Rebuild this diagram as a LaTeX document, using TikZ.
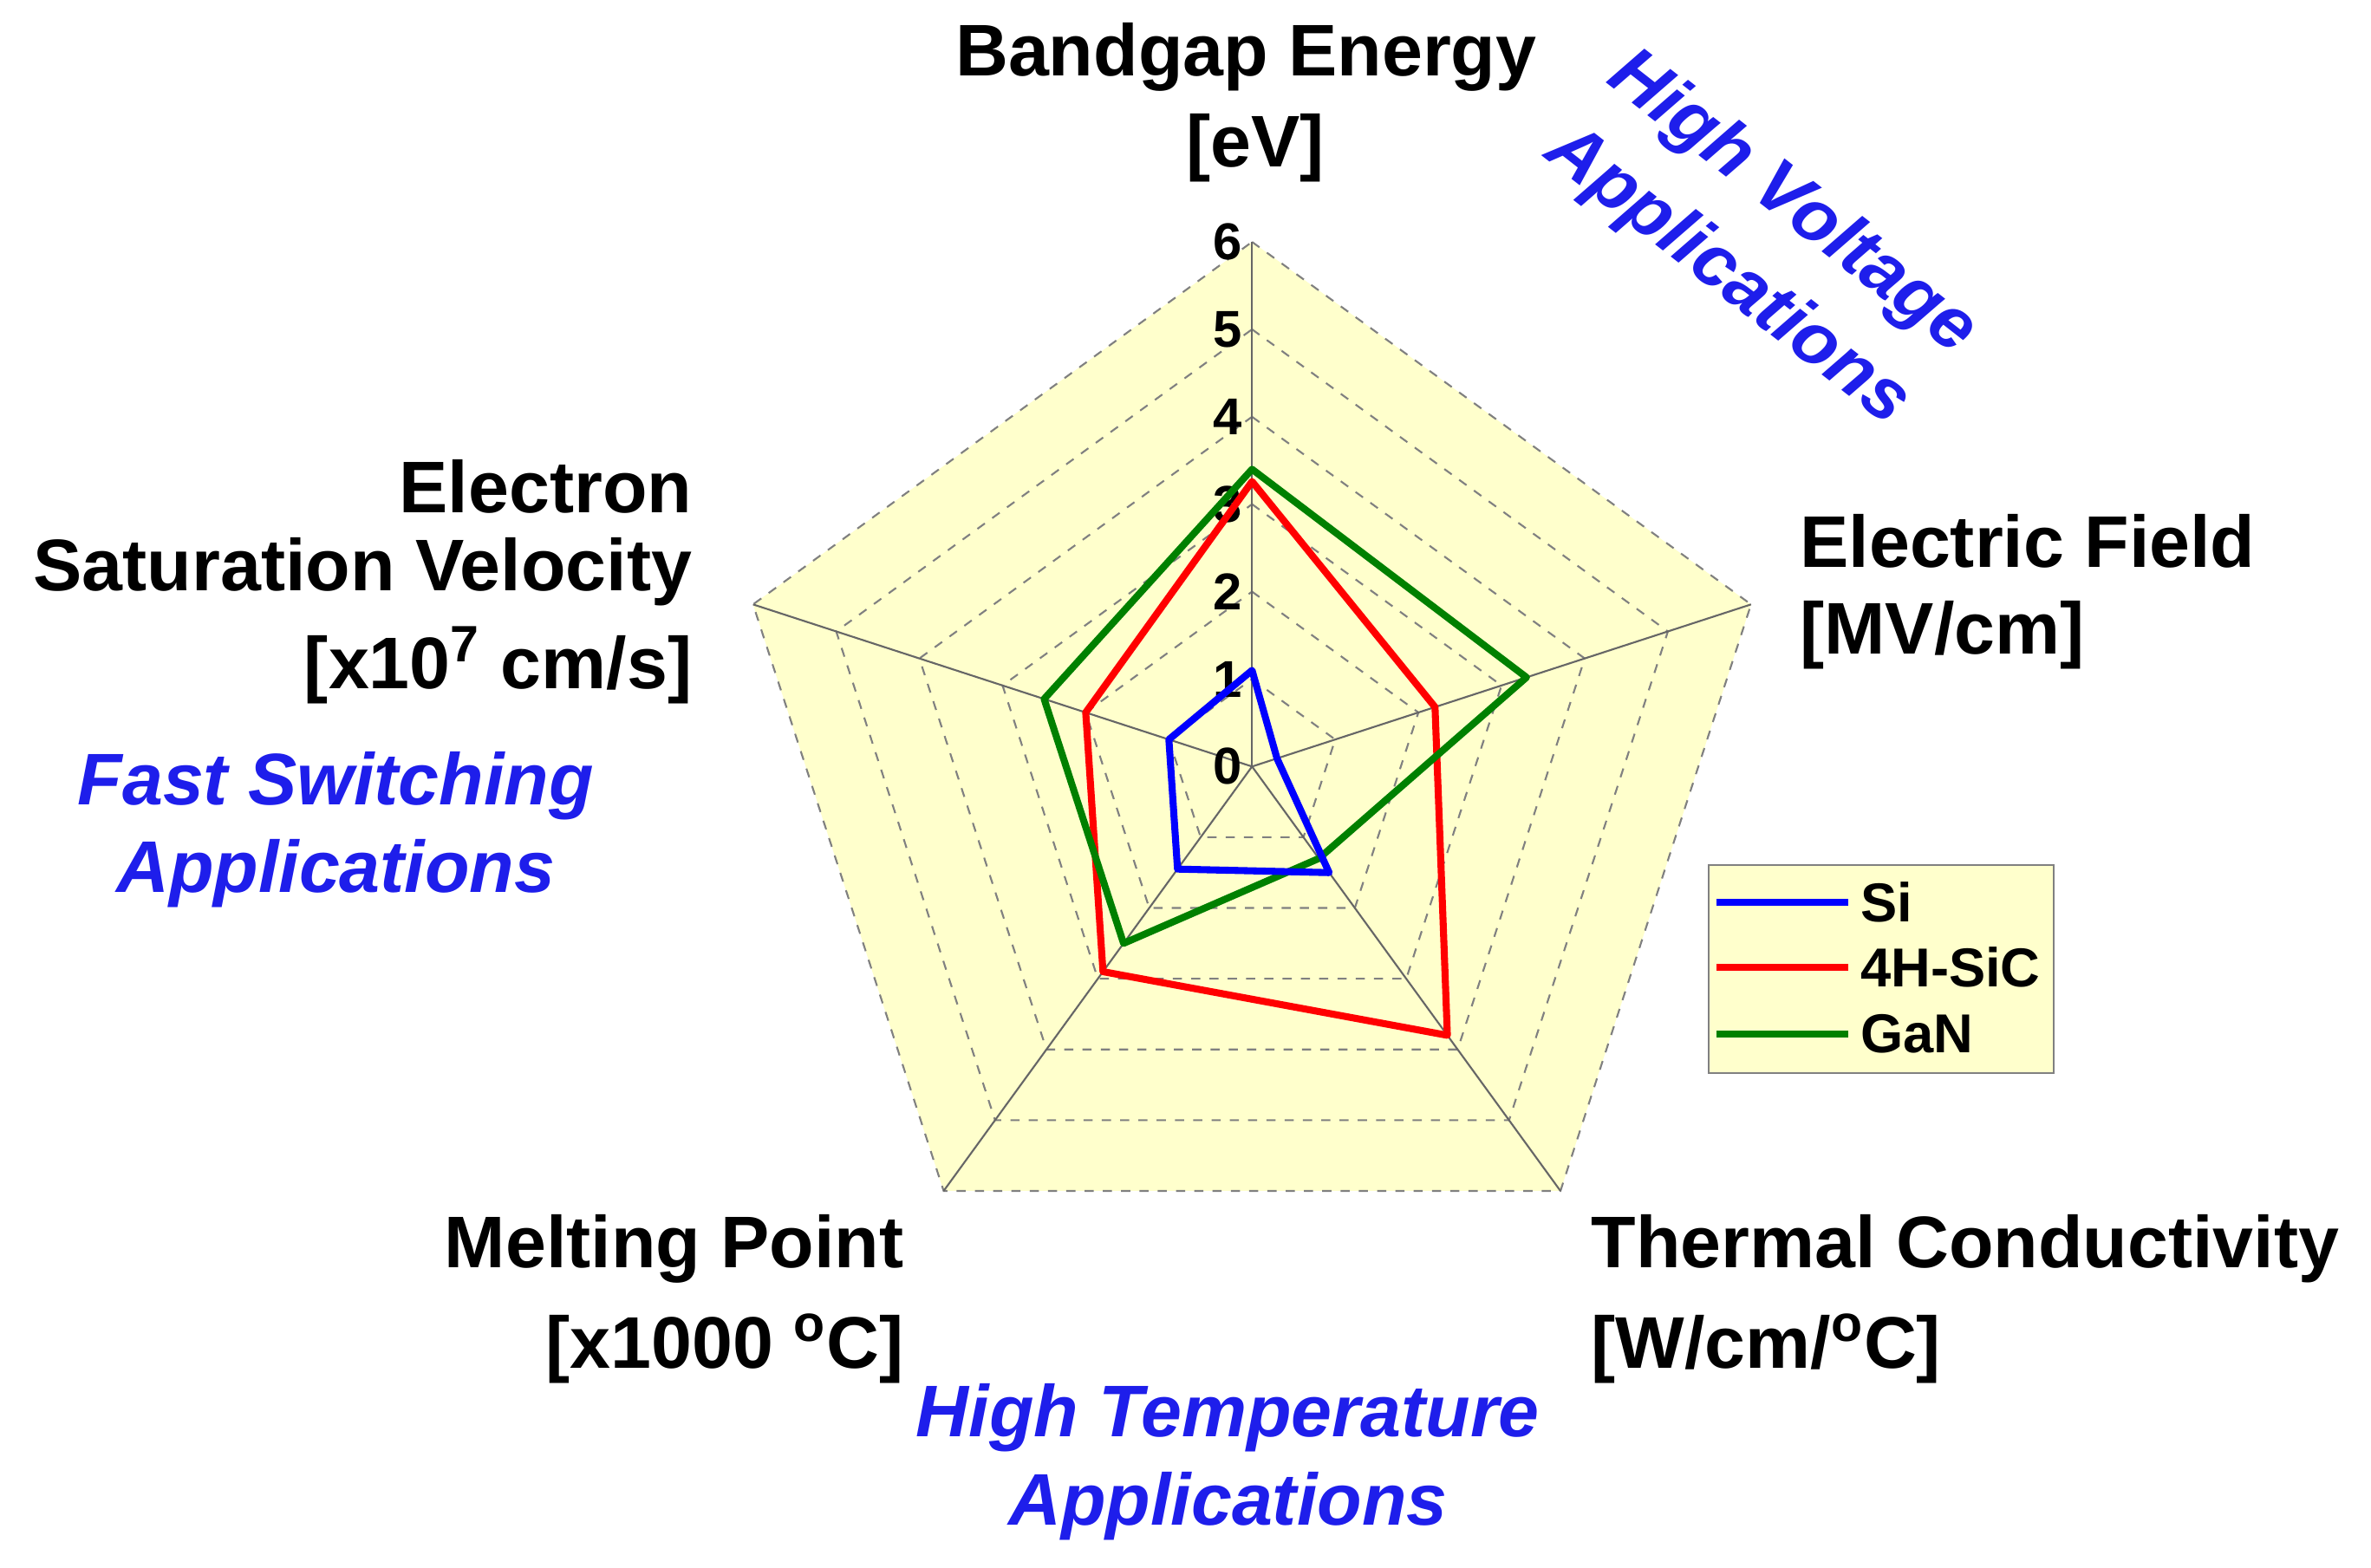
\documentclass[tikz,border=0pt]{standalone}
\usepackage{fontspec}
\setmainfont{Liberation Sans}
\begin{document}
\begin{tikzpicture}[x=0.01744cm,y=0.01744cm,
  lab/.style={font=\fontsize{24}{28}\selectfont\bfseries,inner sep=0},
  app/.style={font=\fontsize{24}{28}\selectfont\bfseries\itshape,text=appblue,inner sep=0},
  tick/.style={font=\fontsize{17}{20}\selectfont\bfseries,inner sep=0},
  leg/.style={font=\fontsize{18}{21}\selectfont\bfseries,inner sep=0},
  ring/.style={gray,dashed,line width=0.6pt},
  spoke/.style={gray!80!black,line width=0.6pt},
  ser/.style={line width=2.3pt,line join=round}]
\definecolor{appblue}{RGB}{30,30,235}
\definecolor{bgfill}{RGB}{255,255,204}
\definecolor{sig}{RGB}{0,0,255}
\definecolor{sicc}{RGB}{255,0,0}
\definecolor{ganc}{RGB}{0,128,0}
\useasboundingbox (0,0) rectangle (1568,1037);
\fill[white] (0,0) rectangle (1568,1037);
\begin{scope}[shift={(828,530)}]
\def\u{57.83}
\fill[bgfill] (90:6*\u) -- (18:6*\u) -- (-54:6*\u) -- (-126:6*\u) -- (162:6*\u) -- cycle;
\foreach \k in {1,...,6}{
  \draw[ring] (90:\k*\u) -- (18:\k*\u) -- (-54:\k*\u) -- (-126:\k*\u) -- (162:\k*\u) -- cycle;}
\foreach \a in {90,18,-54,-126,162}{\draw[spoke] (0,0) -- (\a:6*\u);}
\foreach \k in {0,...,6}{\node[tick] (t\k) at (-16,\k*\u) {\k};}
\draw[ser,sicc] (90:3.26*\u) -- (18:2.2*\u) -- (-54:3.8*\u) -- (-126:2.9*\u) -- (162:2.0*\u) -- cycle;
\draw[ser,ganc] (90:3.4*\u) -- (18:3.3*\u) -- (-54:1.3*\u) -- (-126:2.5*\u) -- (162:2.5*\u) -- cycle;
\draw[ser,sig] (90:1.1*\u) -- (18:0.3*\u) -- (-54:1.5*\u) -- (-126:1.45*\u) -- (162:1.0*\u) -- cycle;
\end{scope}
% labels
\node[lab] (bg1) at (824,999) {Bandgap Energy};
\node[lab] (bg2) at (830,939) {[eV]};
\node[lab,anchor=west] (ef1) at (1190,679) {Electric Field};
\node[lab,anchor=west] (ef2) at (1190,617) {[MV/cm]};
\node[lab,anchor=east] (ev1) at (458,715) {Electron};
\node[lab,anchor=east] (ev2) at (458,659) {Saturation Velocity};
\node[lab,anchor=east] (ev3) at (458,597) {[x10\textsuperscript{7} cm/s]};
\node[lab,anchor=west] (tc1) at (1052,211) {Thermal Conductivity};
\node[lab,anchor=west] (tc2) at (1052,145) {[W/cm/\textsuperscript{o}C]};
\node[lab,anchor=east] (mp1) at (598,211) {Melting Point};
\node[lab,anchor=east] (mp2) at (598,145) {[x1000 \textsuperscript{o}C]};
\node[app] (fs1) at (222,517) {Fast Switching};
\node[app] (fs2) at (222,459) {Applications};
\node[app] (ht1) at (812,99) {High Temperature};
\node[app] (ht2) at (812,41) {Applications};
\node[app,rotate=-38] (hv1) at (1185,902) {High Voltage};
\node[app,rotate=-38] (hv2) at (1142,854) {Applications};
% legend
\draw[gray,fill=bgfill,line width=0.6pt] (1130,327) rectangle (1358,465);
\draw[ser,sig] (1135,440) -- (1222,440);
\draw[ser,sicc] (1135,397) -- (1222,397);
\draw[ser,ganc] (1135,353) -- (1222,353);
\node[leg,anchor=west] (l1) at (1230,440) {Si};
\node[leg,anchor=west] (l2) at (1230,397) {4H-SiC};
\node[leg,anchor=west] (l3) at (1230,353) {GaN};
\end{tikzpicture}
\end{document}
